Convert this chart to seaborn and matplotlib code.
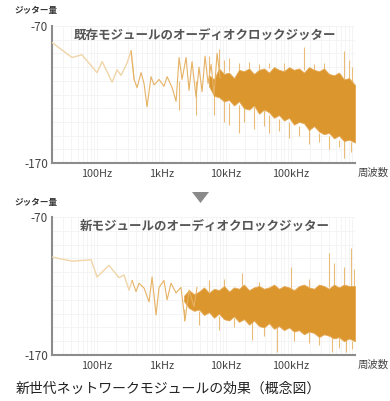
import numpy as np
import pandas as pd
import matplotlib
matplotlib.use("Agg")
import matplotlib.pyplot as plt
from matplotlib.patches import Polygon
from matplotlib.ticker import FixedLocator, NullFormatter, LogLocator
import seaborn as sns

sns.set_style("white")
plt.rcParams['font.family'] = ['Noto Sans CJK JP', 'DejaVu Sans']

# ---------------- data ----------------
titles = ["既存モジュールのオーディオクロックジッター", "新モジュールのオーディオクロックジッター"]
ylabel = "ジッター量"
xlabel = "周波数"
caption = "新世代ネットワークモジュールの効果（概念図）"
xtick_hz = [100, 1000, 10000, 100000]
xtick_labels = ["100Hz", "1kHz", "10kHz", "100kHz"]
ytick_db = [-70, -170]
ytick_labels = ["-70", "-170"]

# existing module: sparse trace (low / mid frequencies)
old_trace_hz = [20, 41, 58, 100, 120, 171, 204, 236, 292, 337, 375, 417, 481, 535, 596,
                687, 765, 915, 1090, 1220, 1460, 1680, 1870, 2080, 2400, 2670, 2970, 3430,
                3810, 4250, 4730, 5260, 5860, 6520, 7260, 8080]
old_trace_db = [-82, -93, -91, -104, -96, -111, -102, -106, -97, -88, -109, -115, -104, -112, -129,
                -107, -113, -109, -114, -107, -115, -125, -93, -109, -93, -117, -96, -122,
                -100, -118, -92, -112, -98, -120, -90, -108]
# existing module: dense band edges
old_core_hz = [5450, 6520, 7780, 9310, 11130, 13300, 15900, 19000, 22740, 27180, 32500,
               38840, 46430, 55500, 66370, 79300, 94800, 113300, 135500, 161900, 193600,
               231400, 276600, 330600, 395300, 472500, 564800, 675200, 807100, 1000000]
old_core_hi = [-106, -109, -101, -105, -104, -108, -102, -103, -101, -105, -102,
               -101, -104, -100, -102, -103, -100, -102, -101, -104, -100,
               -102, -103, -101, -105, -106, -104, -109, -108, -113]
old_core_lo = [-114, -121, -122, -125, -124, -128, -125, -130, -131, -128, -134,
               -131, -133, -137, -135, -139, -137, -142, -140, -141, -146,
               -143, -147, -149, -148, -152, -150, -154, -153, -155]
# existing module: isolated streaks (frequency, start, end)
old_spike_hz = [5450, 7780, 9310, 11130, 15900, 22740, 32500, 46430, 79300, 161900, 231400,
                330600, 675200, 807100, 900000,
                6520, 9310, 11130, 15900, 19000, 27180, 38840, 46430, 66370, 94800, 135500,
                193600, 276600, 395300, 564800, 675200, 870000, 1870, 3430]
old_spike_base = [-104, -101, -104, -103, -102, -101, -102, -101, -103, -102, -103,
                  -105, -109, -110, -112,
                  -120, -121, -126, -128, -126, -129, -131, -135, -138, -140, -143,
                  -145, -148, -150, -153, -152, -155, -110, -110]
old_spike_end = [-92, -87, -95, -93, -97, -96, -98, -97, -97, -85, -98,
                 -97, -88, -95, -100,
                 -135, -140, -142, -148, -140, -145, -143, -148, -147, -152, -150,
                 -156, -155, -160, -158, -166, -162, -131, -135]

# new module: sparse trace
new_trace_hz = [20, 41, 81, 100, 153, 219, 262, 313, 349, 402, 448, 535, 640, 713, 822,
                915, 1090, 1220, 1400, 1680, 2000, 2310, 2670, 3190, 3550]
new_trace_db = [-99, -102, -101, -113.5, -105, -114, -112, -123, -116, -124, -118, -121.5, -131.5,
                -113.5, -141, -121, -116, -130, -118, -125, -121, -145, -123, -135, -121]
new_core_hz = [2232, 2669, 3191, 3811, 4560, 5450, 6520, 7780, 9310, 11130, 13300,
               15900, 19000, 22740, 27180, 32500, 38840, 46430, 55500, 66370, 79300, 94800,
               113300, 135500, 161900, 193600, 231400, 276600, 330600, 395300, 472500,
               564800, 675200, 807100, 1000000]
new_core_hi = [-127, -123, -126, -124, -121, -125, -122, -123, -120, -124, -121,
               -122, -119, -123, -121, -120, -122, -121, -119, -122, -120, -121,
               -123, -120, -119, -121, -122, -119, -120, -122, -119,
               -121, -119, -120, -120]
new_core_lo = [-131, -136, -138, -137, -141, -139, -143, -140, -144, -145, -142,
               -146, -144, -148, -145, -149, -150, -147, -151, -149, -152, -150,
               -153, -152, -155, -153, -154, -157, -155, -156, -158,
               -157, -160, -158, -160]
new_spike_hz = [5450, 9310, 17700, 32500, 102000, 193600, 395300, 472500, 675200, 867000, 950000,
                2232, 3811, 7780, 13300, 25300, 38840, 61500, 113300, 193600, 276600,
                440000, 564800, 724000, 900000]
new_spike_base = [-124, -121, -122, -122, -122, -121, -121, -119, -120, -121, -120,
                  -137, -138, -142, -143, -145, -149, -150, -152, -152, -154,
                  -157, -157, -159, -160]
new_spike_end = [-116, -115, -110.6, -117, -106, -115, -96, -103, -106, -92.5, -108,
                 -145, -148, -152, -150, -159, -156, -168, -160, -161, -163,
                 -168, -165, -168, -166]

# ---------------- style ----------------
C_TRACE_LO = "#f0d5a8"
C_TRACE = "#e6b264"
C_SPIKE = "#e9bd78"
C_CORE = "#dc962e"
C_SPINE = "#8c8c8c"
C_TEXT = "#444444"

W, H = 390, 401
fig = plt.figure(figsize=(W / 100, H / 100), dpi=100)

def fx(px):
    return px / W

def fy(py):
    return 1 - py / H

panels = [
    dict(top=26, bottom=163, title=titles[0], trace_hz=old_trace_hz, trace_db=old_trace_db,
         core_hz=old_core_hz, core_hi=old_core_hi, core_lo=old_core_lo,
         sp_hz=old_spike_hz, sp_base=old_spike_base, sp_end=old_spike_end, ylab_y=11),
    dict(top=217, bottom=355, title=titles[1], trace_hz=new_trace_hz, trace_db=new_trace_db,
         core_hz=new_core_hz, core_hi=new_core_hi, core_lo=new_core_lo,
         sp_hz=new_spike_hz, sp_base=new_spike_base, sp_end=new_spike_end, ylab_y=203),
]

left_px, right_px = 52, 355
for p in panels:
    ax = fig.add_axes([fx(left_px), fy(p["bottom"]), fx(right_px - left_px),
                       (p["bottom"] - p["top"]) / H])
    ax.set_xscale("log")
    ax.set_xlim(20, 1_000_000)
    ax.set_ylim(-170, -70)

    ax.vlines(p["sp_hz"], p["sp_base"], p["sp_end"], color=C_SPIKE, lw=0.8, zorder=2.5)
    ax.fill_between(p["core_hz"], p["core_lo"], p["core_hi"], color=C_CORE, lw=0.6,
                    edgecolor="#e4a955", zorder=3)

    df = pd.DataFrame({"hz": p["trace_hz"], "db": p["trace_db"]})
    sns.lineplot(data=df[df.hz <= 400], x="hz", y="db", ax=ax, color=C_TRACE_LO, lw=1.0, zorder=4)
    sns.lineplot(data=df[df.hz >= 337], x="hz", y="db", ax=ax, color=C_TRACE, lw=0.8, zorder=4)

    ax.set_xlabel("")
    ax.set_ylabel("")
    ax.xaxis.set_major_locator(FixedLocator(xtick_hz))
    ax.set_xticklabels(xtick_labels)
    ax.xaxis.set_minor_locator(LogLocator(base=10, subs=np.arange(2, 10)))
    ax.xaxis.set_minor_formatter(NullFormatter())
    ax.yaxis.set_major_locator(FixedLocator(ytick_db))
    ax.set_yticklabels(ytick_labels)
    ax.yaxis.set_minor_locator(FixedLocator(list(range(-160, -70, 10))))
    ax.tick_params(axis="both", which="both", length=0)
    ax.tick_params(axis="x", labelsize=7.8, colors=C_TEXT, pad=4)
    ax.tick_params(axis="y", labelsize=8.5, colors=C_TEXT, pad=3)
    ax.grid(True, which="both", color="#f3f3f3", lw=0.6, zorder=0)
    for s in ["top", "right"]:
        ax.spines[s].set_visible(False)
    for s in ["left", "bottom"]:
        ax.spines[s].set_color(C_SPINE)
        ax.spines[s].set_linewidth(1.5)
    ax.set_axisbelow(True)

    ax.text(0.505, 0.935, p["title"], transform=ax.transAxes, ha="center", va="center",
            fontsize=9, fontweight="bold", color="#555555", zorder=6)
    fig.text(fx(373), fy(p["bottom"] + 10), xlabel, ha="center", va="center",
             fontsize=7.5, color=C_TEXT)
    fig.text(fx(14), fy(p["ylab_y"]), ylabel, ha="left", va="center",
             fontsize=6.2, fontweight="bold", color="#333333")

# down-pointing triangle between the panels
tri = Polygon([[fx(192), fy(192)], [fx(209), fy(192)], [fx(200.5), fy(203)]],
              closed=True, transform=fig.transFigure, facecolor="#8a8a8a", edgecolor="none")
fig.add_artist(tri)

fig.text(fx(16), fy(389), caption, ha="left", va="center", fontsize=10, color="#222222")

fig.savefig("out.png", dpi=100, facecolor="white")
